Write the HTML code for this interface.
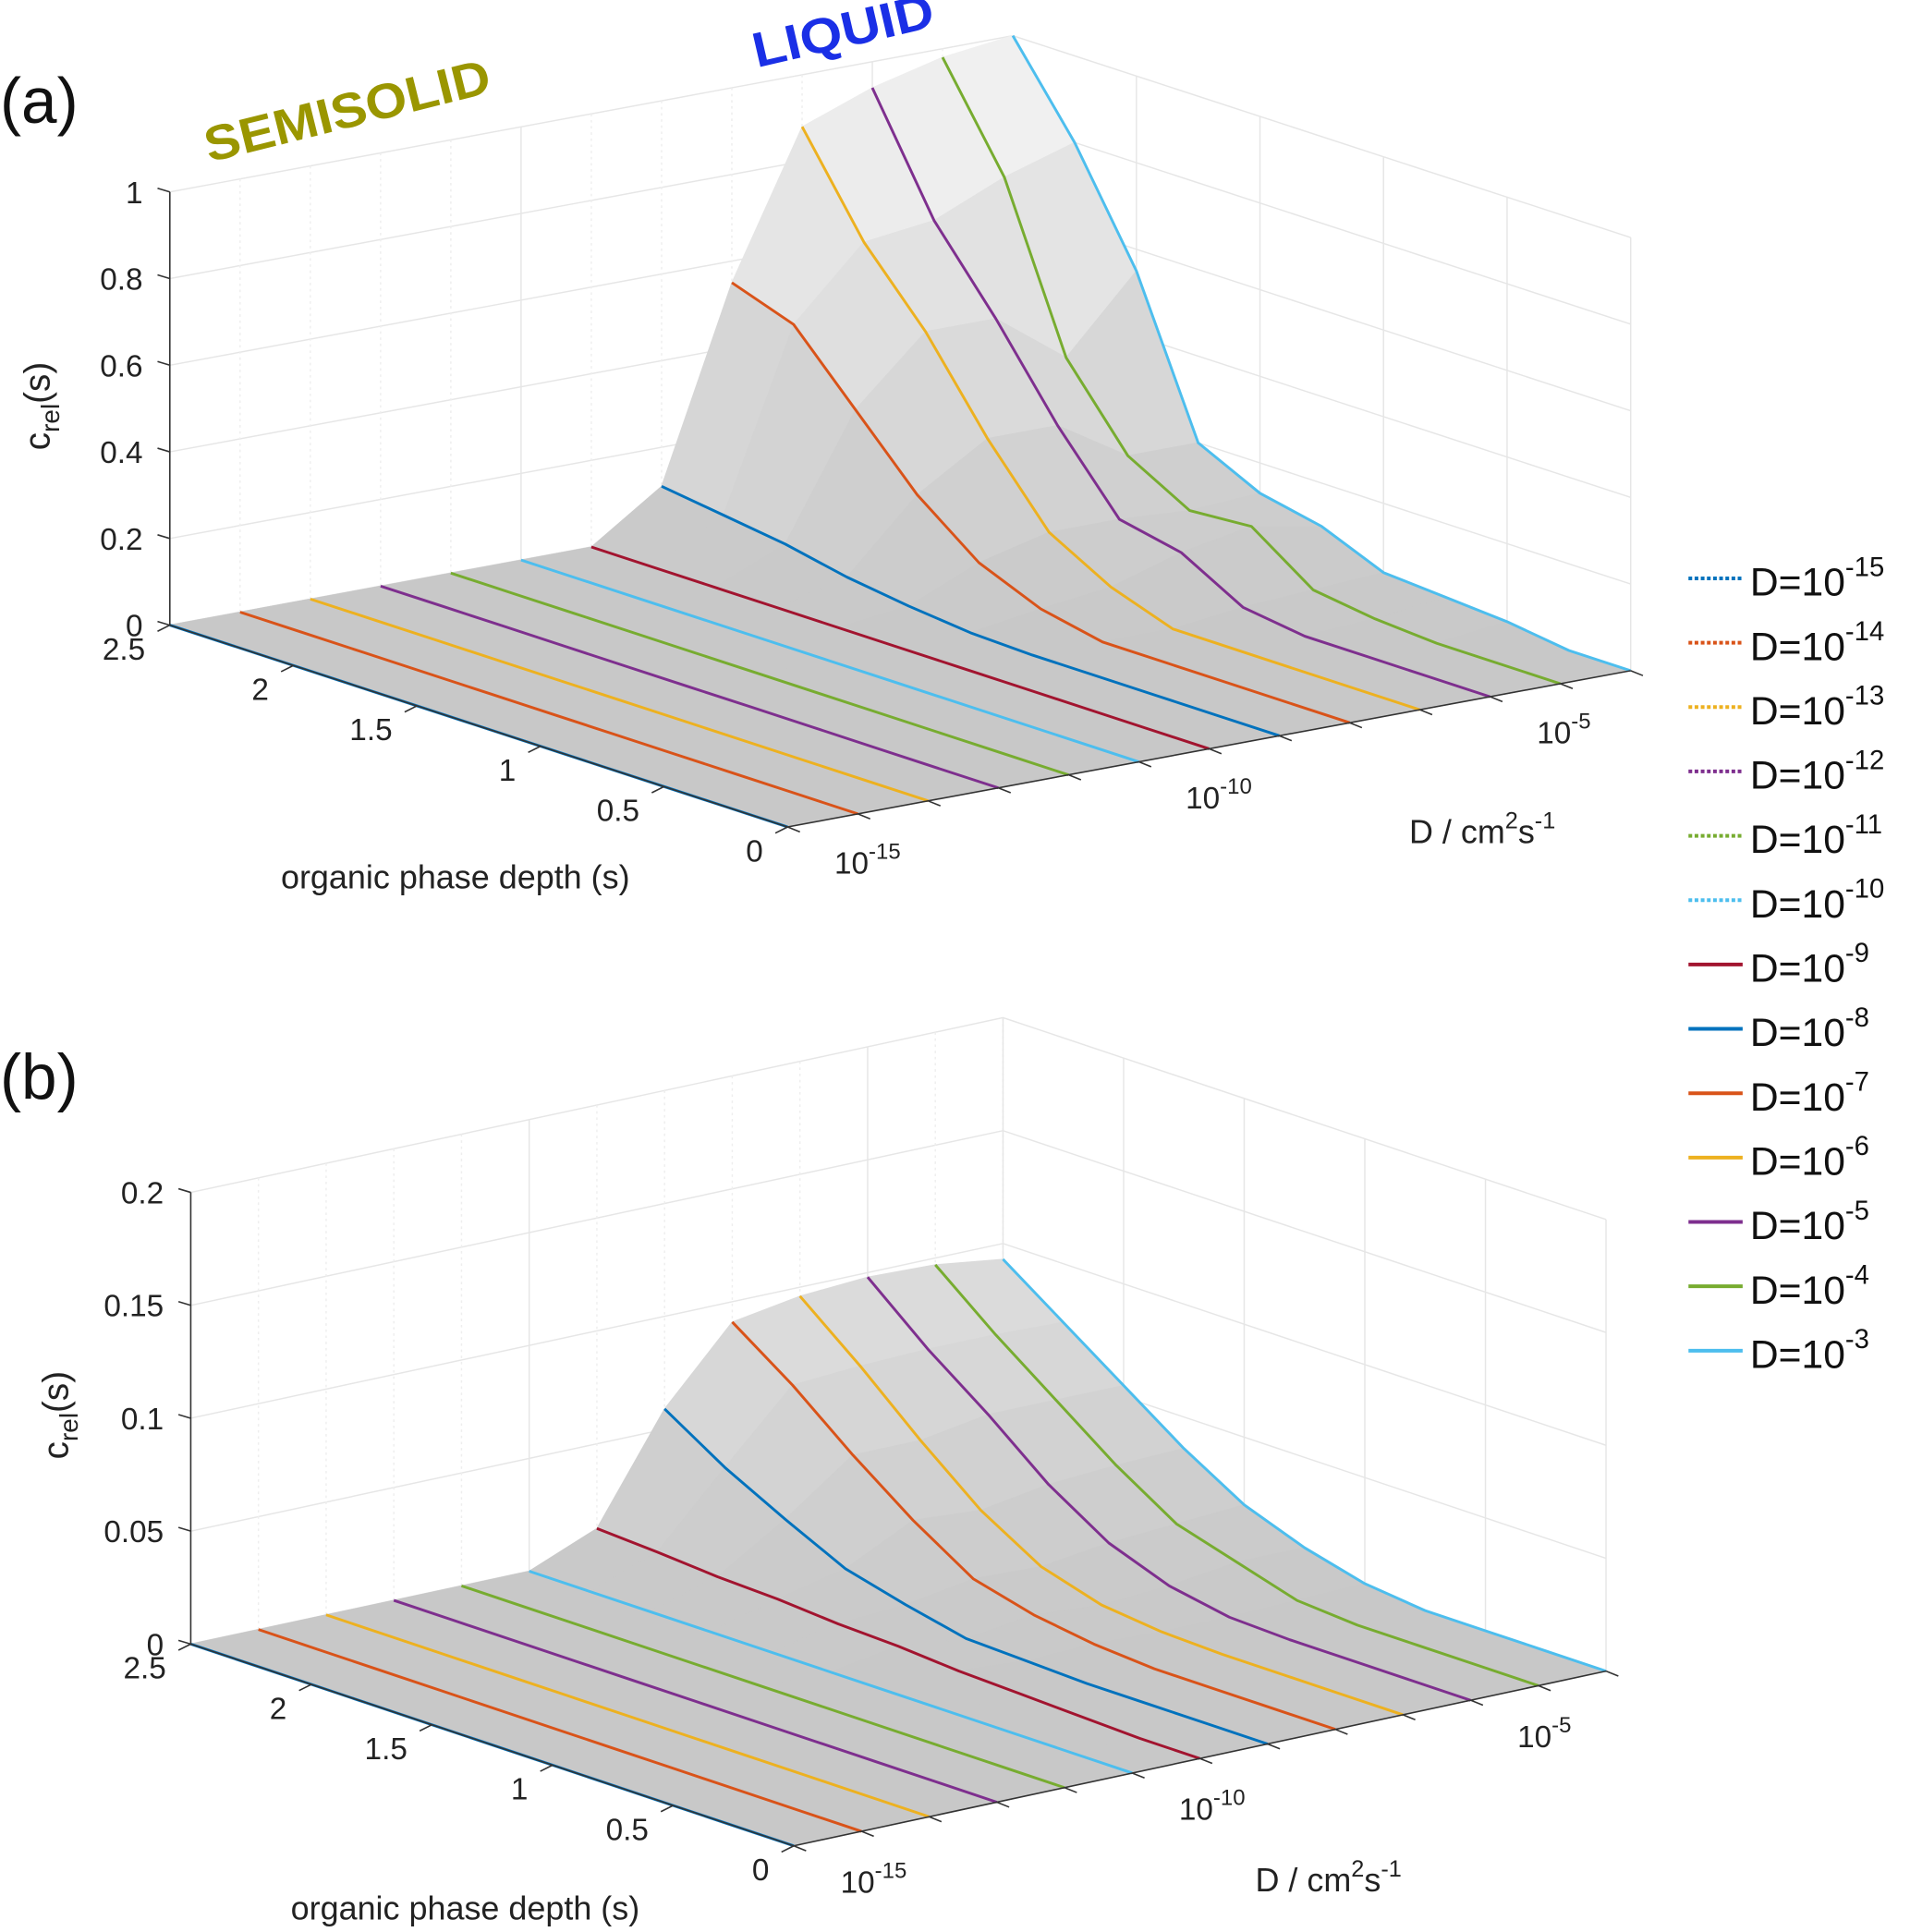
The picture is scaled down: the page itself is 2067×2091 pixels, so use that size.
<!DOCTYPE html>
<html><head><meta charset="utf-8">
<style>
html,body{margin:0;padding:0;background:#fff;}
svg{display:block;font-family:"Liberation Sans",sans-serif;}
</style></head>
<body>
<svg id="fig" width="2067" height="2091" viewBox="0 0 1552 1570" preserveAspectRatio="none" xmlns="http://www.w3.org/2000/svg">
<rect x="0" y="0" width="1552" height="1570" fill="#fff"/>
<g id="pa"></g>
<g id="pb"></g>
<text x="0" y="100" font-size="52" fill="#111">(a)</text>
<text x="0" y="893" font-size="52" fill="#111">(b)</text>
<text x="0" y="0" font-size="40" font-weight="bold" fill="#9a9600" textLength="238" lengthAdjust="spacingAndGlyphs" transform="translate(170,132) rotate(-14)">SEMISOLID</text>
<text x="0" y="0" font-size="40" font-weight="bold" fill="#1a2fe6" textLength="150" lengthAdjust="spacingAndGlyphs" transform="translate(615,55) rotate(-13)">LIQUID</text>
<g id="legend"></g>
</svg>
<script>
// ---- data ----
const depths = [0,0.25,0.5,0.75,1.0,1.25,1.5,1.75,2.0,2.25,2.5];
const logD = [-15,-14,-13,-12,-11,-10,-9,-8,-7,-6,-5,-4,-3];
const colors = ["#0072BD","#D95319","#EDB120","#7E2F8E","#77AC30","#4DBEEE","#A2142F","#0072BD","#D95319","#EDB120","#7E2F8E","#77AC30","#4DBEEE"];
const zero = [0,0,0,0,0,0,0,0,0,0,0];
const profilesA = [zero,zero,zero,zero,zero,zero,zero,
  [0,0,0,0,0,0.005,0.02,0.04,0.07,0.09,0.11],
  [0,0,0,0,0,0.03,0.09,0.2,0.35,0.5,0.55],
  [0,0,0,0,0,0.05,0.13,0.3,0.5,0.66,0.88],
  [0,0,0,0,0.02,0.1,0.13,0.3,0.5,0.68,0.94],
  [0,0,0,0.01,0.03,0.13,0.12,0.2,0.38,0.75,0.98],
  [0,0,0.02,0.03,0.04,0.1,0.13,0.2,0.55,0.8,1.0]];
const profilesB = [zero,zero,zero,zero,zero,zero,
  [0,0,0.001,0.002,0.003,0.005,0.006,0.008,0.009,0.011,0.0125],
  [0,0,0,0,0.001,0.002,0.008,0.015,0.028,0.042,0.059],
  [0,0,0,0,0.002,0.006,0.013,0.03,0.05,0.072,0.091],
  [0,0,0,0,0.001,0.004,0.012,0.028,0.05,0.074,0.096],
  [0,0,0,0,0.001,0.006,0.016,0.033,0.055,0.075,0.098],
  [0,0,0,0,0.002,0.01,0.018,0.035,0.055,0.075,0.097],
  [0,0,0,0,0.003,0.01,0.02,0.036,0.055,0.074,0.093]];
const zTicksA = [0,0.2,0.4,0.6,0.8,1];
const zTicksB = [0,0.05,0.1,0.15,0.2];
const zLabelsA = ["0","0.2","0.4","0.6","0.8","1"];
const zLabelsB = ["0","0.05","0.1","0.15","0.2"];
const depthTicks = [0,0.5,1,1.5,2,2.5];
const depthLabels = ["0","0.5","1","1.5","2","2.5"];
const dTicks = [-15,-10,-5];
const dLabels = ["-15","-10","-5"];

const NS="http://www.w3.org/2000/svg";
function mk(tag, attrs, parent){const e=document.createElementNS(NS,tag);for(const k in attrs)e.setAttribute(k,attrs[k]);parent.appendChild(e);return e;}

function drawPanel(g, P, profiles, zTicks, zLabels){
  const proj=(d,L,z)=>{const t=d/2.5,u=(L+15)/12;return [P.ox+t*P.dx[0]+u*P.lx[0], P.oy+t*P.dx[1]+u*P.lx[1]-z*P.zs];};
  const pt=a=>a[0].toFixed(1)+","+a[1].toFixed(1);
  const grid=mk('g',{},g);
  
  
  zTicks.forEach(z=>{
    mk('polyline',{points:[proj(2.5,-15,z),proj(2.5,-3,z),proj(0,-3,z)].map(pt).join(' '),fill:'none',stroke:'#e6e6e6','stroke-width':1.1},grid);
  });
  for(let L=-15;L<=-3;L++){
    const major=(L%5===0);
    mk('line',{x1:proj(2.5,L,0)[0],y1:proj(2.5,L,0)[1],x2:proj(2.5,L,P.zmax)[0],y2:proj(2.5,L,P.zmax)[1],stroke:major?'#e6e6e6':'#eeeeee','stroke-width':1.1,'stroke-dasharray':major?'':'2,3'},grid);
    mk('line',{x1:proj(2.5,L,0)[0],y1:proj(2.5,L,0)[1],x2:proj(0,L,0)[0],y2:proj(0,L,0)[1],stroke:'#e6e6e6','stroke-width':1,'stroke-dasharray':major?'':'2,3'},grid);
  }
  depthTicks.forEach(d=>{
    mk('line',{x1:proj(d,-3,0)[0],y1:proj(d,-3,0)[1],x2:proj(d,-3,P.zmax)[0],y2:proj(d,-3,P.zmax)[1],stroke:'#e6e6e6','stroke-width':1.1},grid);
    mk('line',{x1:proj(d,-15,0)[0],y1:proj(d,-15,0)[1],x2:proj(d,-3,0)[0],y2:proj(d,-3,0)[1],stroke:'#e6e6e6','stroke-width':1},grid);
  });
  const surf=mk('g',{},g);
  
  
  const quads=[];
  for(let i=0;i<depths.length-1;i++)for(let j=0;j<logD.length-1;j++){
    const c=[[depths[i],logD[j],profiles[j][i]],[depths[i+1],logD[j],profiles[j][i+1]],[depths[i+1],logD[j+1],profiles[j+1][i+1]],[depths[i],logD[j+1],profiles[j+1][i]]];
    const zavg=(c[0][2]+c[1][2]+c[2][2]+c[3][2])/4;
    const base=proj((depths[i]+depths[i+1])/2,(logD[j]+logD[j+1])/2,0)[1];
    quads.push({c,zavg,base});
  }
  quads.sort((a,b)=>a.base-b.base);
  quads.forEach(q=>{
    const lv=Math.round(200+45*Math.min(1,q.zavg/P.zmax));
    const col=`rgb(${lv},${lv},${lv})`;
    const p=mk('polygon',{points:q.c.map(c=>pt(proj(c[0],c[1],c[2]))).join(' '),fill:col,stroke:col,'stroke-width':0.8},surf);
    
    
  });
  logD.forEach((L,j)=>{
    const pl=mk('polyline',{points:depths.map((d,i)=>pt(proj(d,L,profiles[j][i]))).join(' '),fill:'none',stroke:colors[j],'stroke-width':2.2,'stroke-linejoin':'round'},g);
    
    
  });
  const ax=mk('g',{stroke:'#333','stroke-width':1.2,fill:'none'},g);
  
  
  const l0=proj(2.5,-15,0), lt=proj(2.5,-15,P.zmax), f0=proj(0,-15,0), r0=proj(0,-3,0);
  mk('line',{x1:l0[0],y1:l0[1],x2:lt[0],y2:lt[1]},ax);
  mk('line',{x1:l0[0],y1:l0[1],x2:f0[0],y2:f0[1]},ax);
  mk('line',{x1:f0[0],y1:f0[1],x2:r0[0],y2:r0[1]},ax);
  zTicks.forEach((z,k)=>{
    const p=proj(2.5,-15,z);
    mk('line',{x1:p[0]-10,y1:p[1]-3,x2:p[0],y2:p[1]},ax);
    const t=mk('text',{x:p[0]-22,y:p[1]+9,'font-size':25,fill:'#222','text-anchor':'end',stroke:'none'},g);
    t.textContent=zLabels[k];
    
    
  });
  depthTicks.forEach((d,k)=>{
    const p=proj(d,-15,0);
    mk('line',{x1:p[0],y1:p[1],x2:p[0]-10,y2:p[1]+5},ax);
    const t=mk('text',{x:p[0]-20,y:p[1]+28,'font-size':25,fill:'#222','text-anchor':'end',stroke:'none'},g);
    t.textContent=depthLabels[k];
    
    
  });
  for(let L=-15;L<=-3;L++){
    const p=proj(0,L,0);
    mk('line',{x1:p[0],y1:p[1],x2:p[0]+10,y2:p[1]+4},ax);
  }
  dTicks.forEach((L,k)=>{
    const p=proj(0,L,0);
    const t=mk('text',{x:p[0]+38,y:p[1]+38,'font-size':25,fill:'#222',stroke:'none'},g);
    
    
    t.appendChild(document.createTextNode('10'));
    const s=mk('tspan',{dy:-12,'font-size':18},t); s.textContent=dLabels[k];
  });
}
const PA={ox:640,oy:672,dx:[-502,-164],lx:[685,-127],zs:352,zmax:1};
const PB={ox:645,oy:1500,dx:[-490,-164],lx:[660,-142],zs:1835,zmax:0.2};
drawPanel(document.getElementById('pa'),PA,profilesA,zTicksA,zLabelsA);
drawPanel(document.getElementById('pb'),PB,profilesB,zTicksB,zLabelsB);

const svg=document.getElementById('fig');
function title(x,y,txt,name,extra){const t=mk('text',Object.assign({x:x,y:y,'font-size':27,fill:'#222'},extra||{}),svg);t.textContent=txt;return t;}
title(370,722,'organic phase depth (s)','depth-axis-title-a',{'text-anchor':'middle'});
title(378,1560,'organic phase depth (s)','depth-axis-title-b',{'text-anchor':'middle'});
function dTitle(x,y,name){const t=title(x,y,'D / cm','d-axis-title-'+name);const a=mk('tspan',{dy:-12,'font-size':19},t);a.textContent='2';const b=mk('tspan',{dy:12},t);b.textContent='s';const c=mk('tspan',{dy:-12,'font-size':19},t);c.textContent='-1';}
dTitle(1145,685,'a');
dTitle(1020,1537,'b');
function cTitle(x,y,name){const t=mk('text',{x:0,y:0,'font-size':29,fill:'#222','text-anchor':'middle',transform:`translate(${x},${y}) rotate(-90)`},svg);t.appendChild(document.createTextNode('c'));const s=mk('tspan',{dy:8,'font-size':21},t);s.textContent='rel';const u=mk('tspan',{dy:-8},t);u.textContent='(s)';}
cTitle(40,330,'a');
cTitle(55,1150,'b');

const lg=document.getElementById('legend');
logD.forEach((L,j)=>{
  const y=470+j*52.3;
  const ln=mk('line',{x1:1372,y1:y,x2:1416,y2:y,stroke:colors[j],'stroke-width':3,'stroke-dasharray':j<6?'3,2':''},lg);
  
  
  const t=mk('text',{x:1422,y:y+14,'font-size':32,fill:'#111'},lg);
  
  
  t.appendChild(document.createTextNode('D=10'));
  const s=mk('tspan',{dy:-16,'font-size':22},t);s.textContent=String(L);
});
</script>
</body></html>
